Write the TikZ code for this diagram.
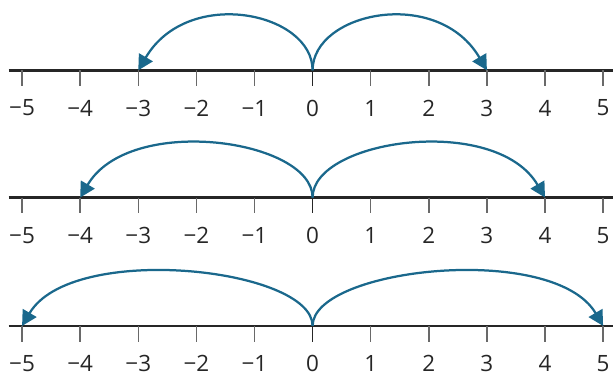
\documentclass[tikz,border=0pt]{standalone}
\usepackage{fontspec}
\setmainfont{Open Sans}
\usetikzlibrary{arrows.meta}
\definecolor{jumpblue}{RGB}{26,104,140}
\definecolor{tickgray}{RGB}{105,105,105}

\begin{document}
\begin{tikzpicture}[
        % Styles for the number lines
        axis/.style={line width=1.4pt, draw=black!85},
        tick/.style={line width=0.7pt, draw=tickgray},
        zerotick/.style={line width=0.8pt, draw=black!85},
        numlabel/.style={font=\fontsize{11}{13}\selectfont, text=black!85, inner sep=0pt},
        jump/.style={-{Triangle[length=2.6mm,width=2.7mm]}, line width=1.1pt, draw=jumpblue}
    ]
        \useasboundingbox (-5.38,-6.44) rectangle (5.17,0);

        % Three number lines with ticks and numbers
        \foreach \row/\y in {1/-1.21, 2/-3.40, 3/-5.61} {
            \coordinate (l\row-start) at (-5.23,\y);
            \coordinate (l\row-end) at (5.17,\y);
            \draw[axis] (l\row-start) -- (l\row-end);
            \foreach \x/\nm/\txt in {-5/m5/−5, -4/m4/−4, -3/m3/−3, -2/m2/−2, -1/m1/−1, 0/z/0, 1/p1/1, 2/p2/2, 3/p3/3, 4/p4/4, 5/p5/5} {
                \coordinate (l\row-\nm) at (\x,\y);
                \draw[tick] (l\row-\nm) -- ++(0,-0.27);
                \node[numlabel] (lab\row-\nm) at (\x,\y-0.65) {\txt};
            }
            \draw[zerotick] (l\row-z) -- ++(0,-0.27);
        }

        % Jumps from 0
        \draw[jump] (l1-z) .. controls +(0,1.0) and +(0.85,1.45) .. (l1-m3);
        \draw[jump] (l1-z) .. controls +(0,1.0) and +(-0.85,1.45) .. (l1-p3);

        \draw[jump] (l2-z) .. controls +(0,1.0) and +(0.85,1.45) .. (l2-m4);
        \draw[jump] (l2-z) .. controls +(0,1.0) and +(-0.85,1.45) .. (l2-p4);

        \draw[jump] (l3-z) .. controls +(0,1.0) and +(0.85,1.45) .. (l3-m5);
        \draw[jump] (l3-z) .. controls +(0,1.0) and +(-0.85,1.45) .. (l3-p5);

    \end{tikzpicture}
\end{document}
